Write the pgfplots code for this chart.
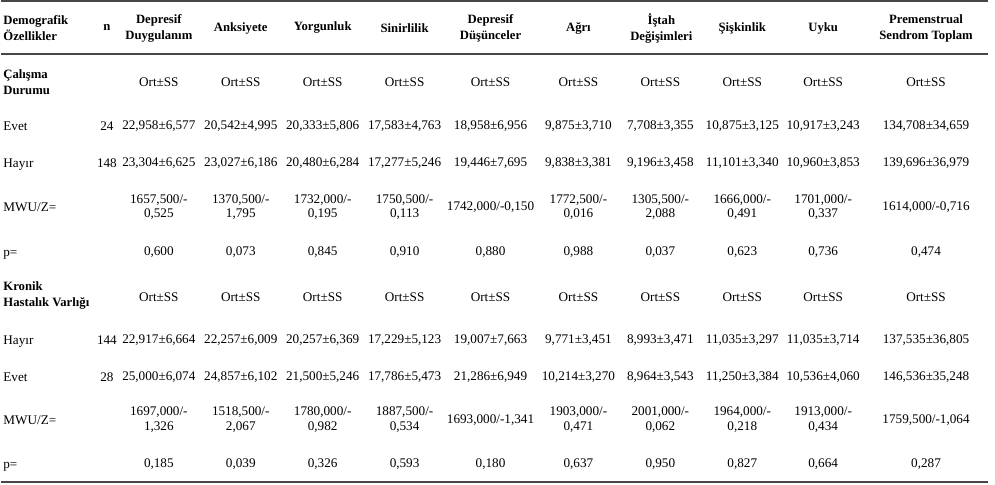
\documentclass[border=0pt]{standalone}
\usepackage{pgfplots}
\pgfplotsset{compat=1.18}
\usepackage{fontspec}
\setmainfont{Liberation Serif}
\newcommand\body{\fontsize{6.6}{7.2}\selectfont}
\newcommand\head{\fontsize{6.35}{8.0}\selectfont\bfseries}
\pgfplotsset{
  cell/.style={only marks, mark=none, point meta=explicit symbolic, nodes near coords,
    nodes near coords align=center,
    every node near coord/.append style={anchor=center, align=center, inner sep=0pt, font=\body, text=black}},
  headc/.style={cell, every node near coord/.append style={font=\head}},
  bodyl/.style={cell, every node near coord/.append style={anchor=base west, align=left, yshift=-2.3pt}},
  headl/.style={cell, every node near coord/.append style={anchor=west, align=left, font=\head}},
  rule/.style={no markers, line width=1pt, color=black!72},
}
\begin{document}
\begin{tikzpicture}
\begin{axis}[scale only axis, width=497.5pt, height=242.5pt,
  xmin=0, xmax=995, ymin=0, ymax=485, y dir=reverse, hide axis, clip=false]
% bounding frame (invisible)
\addplot[draw=none] coordinates {(0,0) (995,485)};
% rules
\addplot[rule] coordinates {(0,1) (988,1)};
\addplot[rule] coordinates {(0,54.5) (988,54.5)};
\addplot[rule] coordinates {(0,482.5) (988,482.5)};
% header
\addplot[headl] coordinates {(2,28)[Demografik\\Özellikler] (2,82)[Çalışma\\Durumu] (2,296)[Kronik\\Hastalık Varlığı]};
\addplot[headc] coordinates {(106,28)[n] (158,28)[Depresif\\Duygulanım] (240,28)[Anksiyete] (322,28)[Yorgunluk] (404,28)[Sinirlilik] (490,28)[Depresif\\Düşünceler] (578,28)[Ağrı] (661,28)[İştah\\Değişimleri] (742,28)[Şişkinlik] (823,28)[Uyku] (926,28)[Premenstrual\\Sendrom Toplam]};
% row labels
\addplot[bodyl] coordinates {(2,126)[Evet] (2,163)[Hayır] (2,207)[MWU/Z=] (2,252)[p=] (2,340)[Hayır] (2,377)[Evet] (2,420)[MWU/Z=] (2,464)[p=]};
% Çalışma Durumu
\addplot[cell] coordinates {(158,82)[Ort±SS] (240,82)[Ort±SS] (322,82)[Ort±SS] (404,82)[Ort±SS] (490,82)[Ort±SS] (578,82)[Ort±SS] (660,82)[Ort±SS] (742,82)[Ort±SS] (823,82)[Ort±SS] (926,82)[Ort±SS]};
\addplot[cell] coordinates {(106,126)[24] (158,126)[22,958±6,577] (240,126)[20,542±4,995] (322,126)[20,333±5,806] (404,126)[17,583±4,763] (490,126)[18,958±6,956] (578,126)[9,875±3,710] (660,126)[7,708±3,355] (742,126)[10,875±3,125] (823,126)[10,917±3,243] (926,126)[134,708±34,659]};
\addplot[cell] coordinates {(106,163)[148] (158,163)[23,304±6,625] (240,163)[23,027±6,186] (322,163)[20,480±6,284] (404,163)[17,277±5,246] (490,163)[19,446±7,695] (578,163)[9,838±3,381] (660,163)[9,196±3,458] (742,163)[11,101±3,340] (823,163)[10,960±3,853] (926,163)[139,696±36,979]};
\addplot[cell] coordinates {(158,207)[1657,500/-\\0,525] (240,207)[1370,500/-\\1,795] (322,207)[1732,000/-\\0,195] (404,207)[1750,500/-\\0,113] (490,207)[1742,000/-0,150] (578,207)[1772,500/-\\0,016] (660,207)[1305,500/-\\2,088] (742,207)[1666,000/-\\0,491] (823,207)[1701,000/-\\0,337] (926,207)[1614,000/-0,716]};
\addplot[cell] coordinates {(158,252)[0,600] (240,252)[0,073] (322,252)[0,845] (404,252)[0,910] (490,252)[0,880] (578,252)[0,988] (660,252)[0,037] (742,252)[0,623] (823,252)[0,736] (926,252)[0,474]};
% Kronik Hastalık Varlığı
\addplot[cell] coordinates {(158,297)[Ort±SS] (240,297)[Ort±SS] (322,297)[Ort±SS] (404,297)[Ort±SS] (490,297)[Ort±SS] (578,297)[Ort±SS] (660,297)[Ort±SS] (742,297)[Ort±SS] (823,297)[Ort±SS] (926,297)[Ort±SS]};
\addplot[cell] coordinates {(106,340)[144] (158,340)[22,917±6,664] (240,340)[22,257±6,009] (322,340)[20,257±6,369] (404,340)[17,229±5,123] (490,340)[19,007±7,663] (578,340)[9,771±3,451] (660,340)[8,993±3,471] (742,340)[11,035±3,297] (823,340)[11,035±3,714] (926,340)[137,535±36,805]};
\addplot[cell] coordinates {(106,377)[28] (158,377)[25,000±6,074] (240,377)[24,857±6,102] (322,377)[21,500±5,246] (404,377)[17,786±5,473] (490,377)[21,286±6,949] (578,377)[10,214±3,270] (660,377)[8,964±3,543] (742,377)[11,250±3,384] (823,377)[10,536±4,060] (926,377)[146,536±35,248]};
\addplot[cell] coordinates {(158,420)[1697,000/-\\1,326] (240,420)[1518,500/-\\2,067] (322,420)[1780,000/-\\0,982] (404,420)[1887,500/-\\0,534] (490,420)[1693,000/-1,341] (578,420)[1903,000/-\\0,471] (660,420)[2001,000/-\\0,062] (742,420)[1964,000/-\\0,218] (823,420)[1913,000/-\\0,434] (926,420)[1759,500/-1,064]};
\addplot[cell] coordinates {(158,464)[0,185] (240,464)[0,039] (322,464)[0,326] (404,464)[0,593] (490,464)[0,180] (578,464)[0,637] (660,464)[0,950] (742,464)[0,827] (823,464)[0,664] (926,464)[0,287]};
\end{axis}
\end{tikzpicture}
\end{document}
